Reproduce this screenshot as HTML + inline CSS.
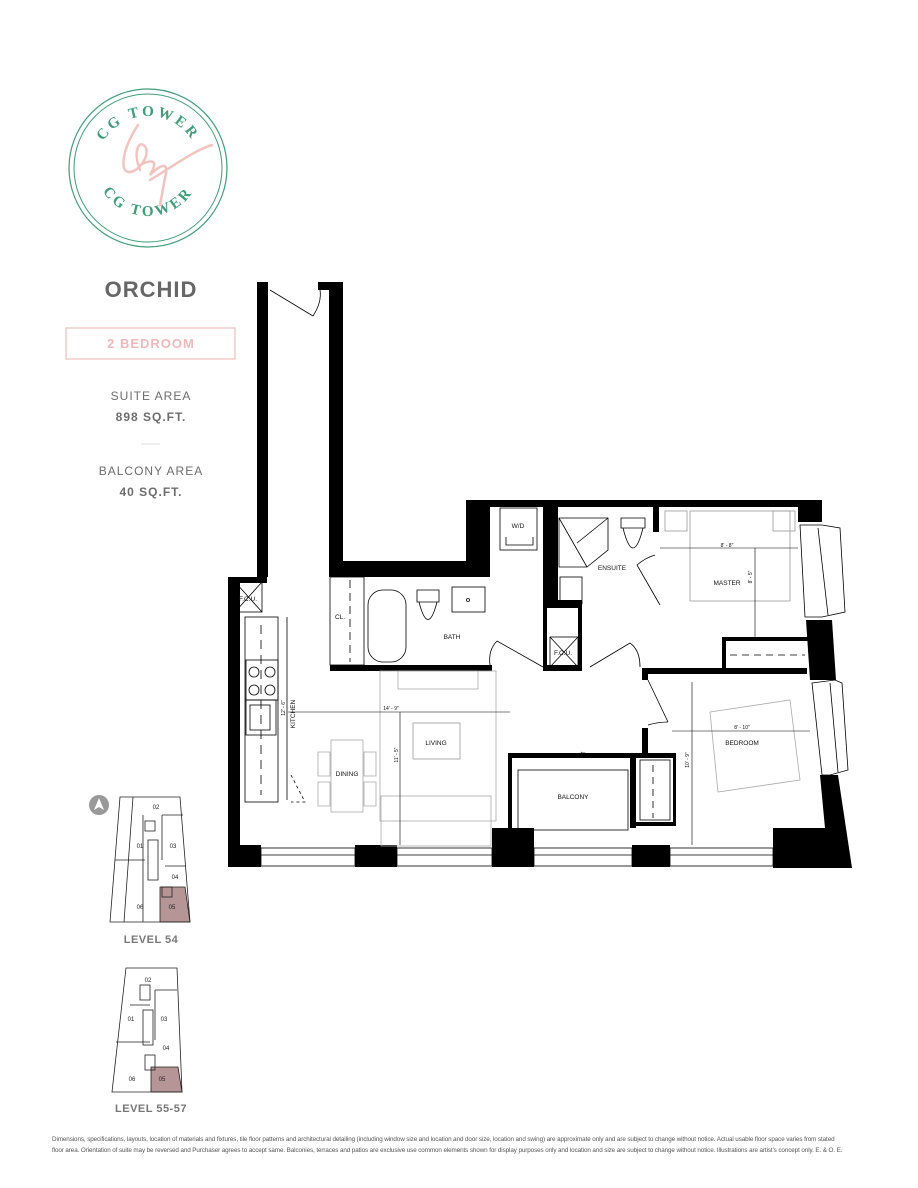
<!DOCTYPE html>
<html><head><meta charset="utf-8"><style>
html,body{margin:0;padding:0;background:#fff;}
body{width:918px;height:1188px;position:relative;overflow:hidden;font-family:"Liberation Sans",sans-serif;}
.t{position:absolute;left:0;width:302px;text-align:center;color:#6d6d6d;letter-spacing:1px;}
</style></head><body>
<svg width="918" height="1188" viewBox="0 0 918 1188" style="position:absolute;left:0;top:0">
<defs>
<path id="ct" d="M 96 168 A 52 52 0 0 1 200 168"/>
<path id="cb" d="M 94 162 A 54 54 0 0 0 202 162"/>
</defs>
<!-- logo -->
<circle cx="148" cy="168" r="79" fill="none" stroke="#3f9e78" stroke-width="1.2"/>
<circle cx="148" cy="168" r="74" fill="none" stroke="#3f9e78" stroke-width="1"/>
<text font-family="Liberation Serif,serif" font-size="15" font-weight="bold" fill="#3f9e78" letter-spacing="3"><textPath href="#ct" startOffset="50%" text-anchor="middle">CG TOWER</textPath></text>
<text font-family="Liberation Serif,serif" font-size="15" font-weight="bold" fill="#3f9e78" letter-spacing="3"><textPath href="#cb" startOffset="50%" text-anchor="middle">CG TOWER</textPath></text>
<path d="M138 125 C128 140 120 160 125 170 C132 178 150 160 146 148 C140 138 132 150 140 170 M140 165 C150 160 160 158 150 175 C160 165 170 160 165 178 L160 205 M150 180 C175 165 195 150 212 145" fill="none" stroke="#f2c4c0" stroke-width="2.5" stroke-linecap="round"/>

<!-- ===== floor plan ===== -->
<g fill="#000">
<rect x="257" y="282" width="11" height="295"/>
<rect x="318" y="282" width="25" height="8"/>
<rect x="329" y="282" width="14" height="295"/>
<rect x="329" y="561" width="161" height="16"/>
<rect x="466" y="500" width="24" height="77"/>
<rect x="257" y="282" width="8" height="8"/>
<rect x="466" y="500" width="356" height="7"/>
<rect x="798" y="500" width="24" height="22"/>
<rect x="228" y="577" width="39" height="6"/>
<rect x="228" y="577" width="12" height="290"/>
<rect x="228" y="845" width="33" height="22"/>
<rect x="355" y="845" width="42" height="22"/>
<rect x="492" y="828" width="42" height="39"/>
<rect x="632" y="845" width="38" height="22"/>
<rect x="773" y="828" width="30" height="40"/>
<polygon points="820,775 838,775 852,868 803,868 803,828 825,828"/>
<polygon points="806,620 832,620 836,680 810,680"/>
<rect x="330" y="665" width="162" height="6"/>
<rect x="543" y="505" width="15" height="100"/>
<rect x="543" y="600" width="39" height="8"/>
<rect x="543" y="600" width="4" height="70"/>
<rect x="578" y="600" width="4" height="70"/>
<rect x="543" y="665" width="39" height="6"/>
<rect x="653" y="507" width="6" height="25"/>
<rect x="645" y="668" width="162" height="6"/>
<rect x="722" y="637" width="86" height="4"/>
<rect x="722" y="637" width="4" height="35"/>
<rect x="642" y="668" width="6" height="12"/>
<rect x="642" y="728" width="6" height="29"/>
<rect x="508" y="753" width="122" height="5"/>
<rect x="630" y="753" width="46" height="5"/>
<rect x="630" y="753" width="6" height="75"/>
<rect x="636" y="822" width="40" height="4"/>
<rect x="673" y="758" width="3" height="68"/>
<rect x="508" y="758" width="4" height="72"/>
</g>
<g fill="none" stroke="#000" stroke-width="0.8">
<line x1="270" y1="290" x2="313" y2="316"/>
<path d="M313 316 Q322 302 320 290"/>
<rect x="261" y="848" width="94" height="18"/><line x1="261" y1="855" x2="355" y2="855"/>
<rect x="397" y="848" width="95" height="18"/><line x1="397" y1="855" x2="492" y2="855"/>
<rect x="534" y="848" width="98" height="18"/><line x1="534" y1="855" x2="632" y2="855"/>
<rect x="670" y="848" width="103" height="18"/><line x1="670" y1="855" x2="773" y2="855"/>
<polygon points="800,525 822,525 840,528 845,612 822,617 805,617"/><line x1="818" y1="528" x2="828" y2="615"/>
<polygon points="812,683 835,680 842,683 848,770 830,775 822,775"/><line x1="830" y1="683" x2="838" y2="772"/>
<rect x="235" y="582" width="27" height="30"/><line x1="235" y1="582" x2="262" y2="612"/><line x1="262" y1="582" x2="235" y2="612"/>
<rect x="245" y="617" width="33" height="185"/>
<line x1="261" y1="625" x2="261" y2="795" stroke-dasharray="9,6"/>
<rect x="246" y="660" width="32" height="40"/>
<circle cx="254" cy="672" r="5"/><circle cx="270" cy="672" r="5"/><circle cx="254" cy="690" r="5"/><circle cx="270" cy="690" r="5"/>
<rect x="246" y="700" width="30" height="35"/><rect x="250" y="705" width="20" height="25"/>
<line x1="287" y1="617" x2="287" y2="800"/>
<path d="M291 775 L305 802 L291 802" stroke-dasharray="3,3"/>
<rect x="330" y="577" width="34" height="88"/>
<line x1="350" y1="580" x2="350" y2="662" stroke-dasharray="8,5"/>
<rect x="368" y="590" width="38" height="72" rx="15"/>
<path d="M417 590 h22 v12 h-22z M419 602 q9 35 18 0"/>
<rect x="452" y="587" width="33" height="25"/><circle cx="468" cy="600" r="1.5"/>
<line x1="497" y1="641" x2="543" y2="667"/><path d="M490 665 Q488 650 497 641"/>
<line x1="590" y1="667" x2="630" y2="643"/><path d="M630 643 Q640 650 640 667"/>
<rect x="500" y="508" width="37" height="42"/><path d="M506 537 v8 h27 v-8"/>
<rect x="550" y="637" width="28" height="30"/><line x1="550" y1="637" x2="578" y2="667"/><line x1="578" y1="637" x2="550" y2="667"/>
<polygon points="559,518 608,518 608,550 587,567 559,567"/><line x1="559" y1="518" x2="587" y2="567"/><line x1="608" y1="518" x2="577" y2="543"/>
<rect x="560" y="577" width="22" height="27"/>
<path d="M621 518 h24 v10 h-24z M623 528 q10 40 20 0"/>
<line x1="637" y1="565" x2="660" y2="605"/><path d="M637 565 Q645 558 655 555"/>
<rect x="690" y="511" width="100" height="90" stroke="#999"/>
<rect x="665" y="511" width="22" height="20" stroke="#999"/><rect x="773" y="511" width="22" height="20" stroke="#999"/>
<line x1="660" y1="548" x2="798" y2="548" stroke-width="0.6"/>
<line x1="755" y1="548" x2="755" y2="640" stroke-width="0.6"/>
<line x1="730" y1="655" x2="805" y2="655" stroke-dasharray="7,5"/>
<polygon points="710,712 790,700 800,780 718,792" stroke="#aaa"/>
<line x1="692" y1="682" x2="692" y2="845" stroke-width="0.6"/>
<line x1="672" y1="731" x2="810" y2="731" stroke-width="0.6"/>
<line x1="648" y1="680" x2="668" y2="722"/><path d="M648 725 Q658 722 668 722"/>
<rect x="640" y="760" width="30" height="60"/><line x1="653" y1="765" x2="653" y2="818" stroke-dasharray="7,5"/>
<rect x="380" y="671" width="116" height="150" stroke="#aaa"/>
<rect x="398" y="671" width="80" height="18" stroke="#aaa"/>
<rect x="413" y="723" width="47" height="36" stroke="#999"/>
<rect x="381" y="796" width="110" height="50" stroke="#aaa"/>
<line x1="288" y1="712" x2="510" y2="712" stroke-width="0.6"/>
<line x1="400" y1="712" x2="400" y2="845" stroke-width="0.6"/>
<rect x="331" y="740" width="32" height="72" stroke="#aaa"/>
<path d="M318 752 h12 v24 h-12z M318 782 h12 v24 h-12z M364 752 h12 v24 h-12z M364 782 h12 v24 h-12z" stroke="#aaa"/>
<rect x="518" y="770" width="110" height="60"/>
<line x1="560" y1="757" x2="608" y2="757"/>
</g>
<g font-family="Liberation Sans,sans-serif" font-size="6.5" fill="#111" text-anchor="middle">
<text x="518" y="528">W/D</text>
<text x="612" y="570">ENSUITE</text>
<text x="727" y="585">MASTER</text>
<text x="452" y="639">BATH</text>
<text x="340" y="619">CL.</text>
<text x="248" y="601">F.C.U.</text>
<text x="563" y="655">F.C.U.</text>
<text x="436" y="745">LIVING</text>
<text x="347" y="776">DINING</text>
<text x="573" y="799">BALCONY</text>
<text x="742" y="745">BEDROOM</text>
<text x="391" y="710" font-size="5">14' - 9"</text>
<text x="727" y="547" font-size="5">8' - 8"</text>
<text x="742" y="729" font-size="5">8' - 10"</text>
<text x="583" y="754" font-size="8">←</text>
<text transform="translate(295,714) rotate(-90)">KITCHEN</text>
<text transform="translate(285,708) rotate(-90)" font-size="5">12' - 6"</text>
<text transform="translate(398,755) rotate(-90)" font-size="5">11' - 5"</text>
<text transform="translate(689,760) rotate(-90)" font-size="5">10' - 9"</text>
<text transform="translate(752,577) rotate(-90)" font-size="5">8' - 5"</text>
</g>

<circle cx="99" cy="805" r="10" fill="#999"/><polygon points="99,798 94,810 99,807 104,810" fill="#fff"/>
<g fill="none" stroke="#222" stroke-width="0.8">
<polygon points="160,922 190,922 185,887 160,887" fill="#b59595"/>
<polygon points="120,797 180,797 190,922 110,922"/>
<line x1="133" y1="797" x2="124" y2="922"/>
<line x1="143" y1="815" x2="143" y2="922"/><line x1="162" y1="815" x2="183" y2="815"/><line x1="162" y1="815" x2="162" y2="860"/>
<rect x="145" y="821" width="10" height="10"/><rect x="148" y="840" width="10" height="40"/><rect x="162" y="887" width="10" height="10"/>
<line x1="115" y1="860" x2="145" y2="860"/><line x1="165" y1="866" x2="186" y2="866"/>
<polygon points="151,1092 182,1092 178,1067 151,1067" fill="#b59595"/>
<polygon points="126,968 177,968 182,1092 112,1092"/>
<line x1="130" y1="1005" x2="150" y2="1005"/><line x1="116" y1="1042" x2="150" y2="1042"/>
<line x1="155" y1="990" x2="177" y2="990"/><line x1="155" y1="990" x2="155" y2="1040"/>
<rect x="143" y="1010" width="10" height="35"/><rect x="140" y="985" width="10" height="15"/><rect x="145" y="1055" width="10" height="15"/>
</g>
<g font-family="Liberation Sans,sans-serif" font-size="6" fill="#222" text-anchor="middle">
<text x="156" y="809">02</text><text x="140" y="848">01</text><text x="173" y="848">03</text><text x="175" y="879">04</text><text x="140" y="909">06</text><text x="172" y="909">05</text>
<text x="148" y="982">02</text><text x="131" y="1021">01</text><text x="164" y="1021">03</text><text x="166" y="1050">04</text><text x="132" y="1081">06</text><text x="162" y="1081">05</text>
</g>
<g font-family="Liberation Sans,sans-serif" font-size="11" font-weight="bold" fill="#777" text-anchor="middle" letter-spacing="0.5">
<text x="151" y="943">LEVEL 54</text><text x="151" y="1112">LEVEL 55-57</text>
</g>
<rect x="66" y="328" width="169" height="31" fill="none" stroke="#f0c4c4" stroke-width="1.3"/>
<line x1="141" y1="444" x2="160" y2="444" stroke="#ddd"/>
</svg>
<div class="t" style="top:277px;font-size:22px;font-weight:bold;color:#666;">ORCHID</div>
<div class="t" style="top:336px;font-size:13px;font-weight:bold;color:#f0b8b8;">2 BEDROOM</div>
<div class="t" style="top:389px;font-size:12px;">SUITE AREA</div>
<div class="t" style="top:410px;font-size:12px;font-weight:bold;">898 SQ.FT.</div>
<div class="t" style="top:464px;font-size:12px;">BALCONY AREA</div>
<div class="t" style="top:485px;font-size:12px;font-weight:bold;">40 SQ.FT.</div>
<div style="position:absolute;left:52px;top:1135px;width:820px;font-size:6.3px;line-height:10.5px;color:#555;white-space:nowrap;letter-spacing:-0.1px;font-family:'Liberation Sans',sans-serif;">Dimensions, specifications, layouts, location of materials and fixtures, tile floor patterns and architectural detailing (including window size and location and door size, location and swing) are approximate only and are subject to change without notice. Actual usable floor space varies from stated<br>floor area. Orientation of suite may be reversed and Purchaser agrees to accept same. Balconies, terraces and patios are exclusive use common elements shown for display purposes only and location and size are subject to change without notice. Illustrations are artist's concept only. E. &amp; O. E.</div>
</body></html>
